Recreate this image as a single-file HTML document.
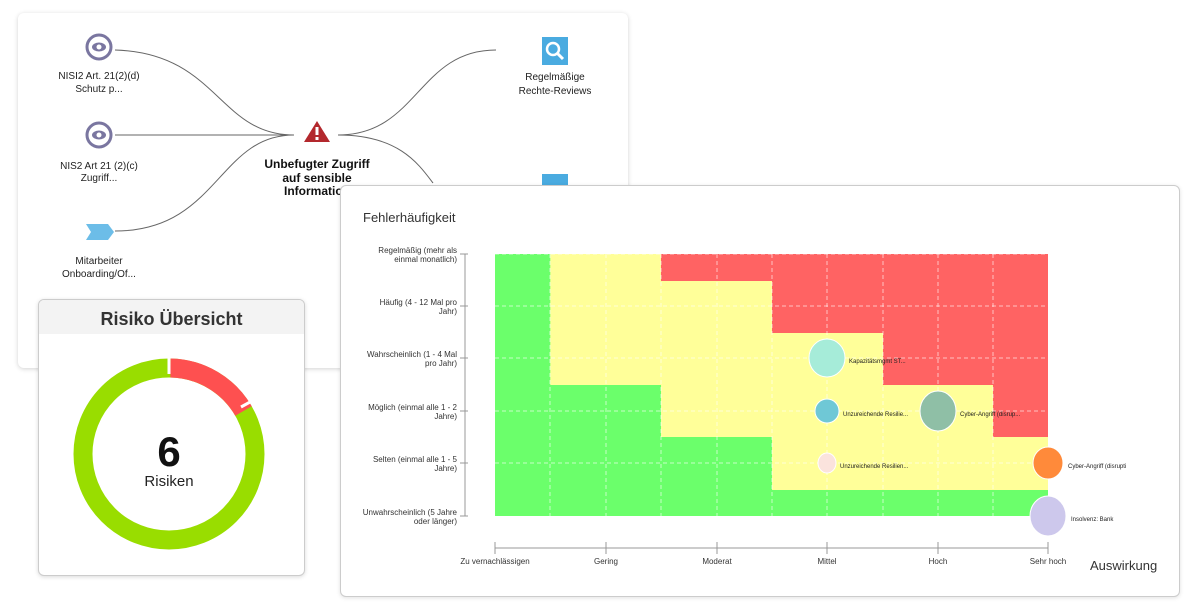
<!DOCTYPE html>
<html><head><meta charset="utf-8"><style>
body{margin:0;width:1200px;height:612px;background:#fff;position:relative;overflow:hidden;font-family:"Liberation Sans",sans-serif}
.card{position:absolute;background:#fff;border-radius:6px}
</style></head><body>
<div class="card" style="left:18px;top:13px;width:610px;height:355px;box-shadow:0 1px 5px rgba(0,0,0,.18)">
<svg width="610" height="355" style="position:absolute;left:0;top:0" font-family="Liberation Sans, sans-serif">
<g fill="none" stroke="#666" stroke-width="1">
<path d="M97 37 C200 40,200 122,276 122"/>
<path d="M97 122 L276 122"/>
<path d="M97 218 C200 218,200 122,276 122"/>
<path d="M320 122 C400 122,400 37,478 37"/>
<path d="M320 122 C380 122,400 150,415 170"/>
</g>
<circle cx="81" cy="34" r="12" fill="#fff" stroke="#7a76a0" stroke-width="3"/>
<ellipse cx="81" cy="34" rx="7" ry="4.5" fill="#7a76a0"/><circle cx="81" cy="34" r="2.5" fill="#fff"/>
<circle cx="81" cy="122" r="12" fill="#fff" stroke="#7a76a0" stroke-width="3"/>
<ellipse cx="81" cy="122" rx="7" ry="4.5" fill="#7a76a0"/><circle cx="81" cy="122" r="2.5" fill="#fff"/>
<polygon points="68,211 90,211 96,219 90,227 68,227 73,219" fill="#6cbde8"/>
<polygon points="299,108 286,129 312,129" fill="#b3282d"/>
<rect x="297.5" y="114" width="3" height="8" fill="#fff"/><rect x="297.5" y="124" width="3" height="3" fill="#fff"/>
<rect x="524" y="24" width="26" height="28" fill="#4aabe0"/>
<circle cx="535" cy="36" r="6" fill="none" stroke="#fff" stroke-width="2.5"/><line x1="539" y1="40" x2="545" y2="46" stroke="#fff" stroke-width="3"/>
<rect x="524" y="161" width="26" height="15" fill="#4aabe0"/>
<g font-size="10" fill="#222" text-anchor="middle">
<text x="81" y="66">NISI2 Art. 21(2)(d)</text><text x="81" y="79">Schutz p...</text>
<text x="81" y="156">NIS2 Art 21 (2)(c)</text><text x="81" y="168">Zugriff...</text>
<text x="81" y="251">Mitarbeiter</text><text x="81" y="264">Onboarding/Of...</text>
<text x="537" y="67">Regelmäßige</text><text x="537" y="81">Rechte-Reviews</text>
</g>
<g font-size="12" font-weight="bold" fill="#111" text-anchor="middle">
<text x="299" y="155">Unbefugter Zugriff</text><text x="299" y="169">auf sensible</text><text x="299" y="182">Information</text>
</g>
</svg></div>

<div class="card" style="left:340px;top:185px;width:840px;height:412px;border:1px solid #ccc;box-sizing:border-box;box-shadow:0 1px 4px rgba(0,0,0,.12)"></div>
<svg width="1200" height="612" style="position:absolute;left:0;top:0" font-family="Liberation Sans, sans-serif">
<text x="363" y="222" font-size="13" fill="#333">Fehlerhäufigkeit</text>
<text x="1090" y="570" font-size="13" fill="#333">Auswirkung</text>
<rect x="495" y="254" width="553" height="262" fill="#ffff99"/>
<g fill="#6bff6b">
<rect x="495" y="254" width="55.3" height="262"/>
<rect x="550" y="385" width="111" height="131"/>
<rect x="661" y="437" width="111" height="79"/>
<rect x="772" y="490" width="276" height="26"/>
</g>
<g fill="#ff6363">
<rect x="661" y="254" width="387" height="27"/>
<rect x="772" y="281" width="276" height="52"/>
<rect x="883" y="333" width="165" height="52"/>
<rect x="993" y="385" width="55" height="52"/>
</g>
<g stroke="#fff" stroke-opacity=".6" stroke-dasharray="4,3" stroke-width="1">
<line x1="495" y1="254" x2="1048" y2="254"/><line x1="495" y1="306" x2="1048" y2="306"/><line x1="495" y1="358" x2="1048" y2="358"/><line x1="495" y1="411" x2="1048" y2="411"/><line x1="495" y1="463" x2="1048" y2="463"/>
<line x1="550" y1="254" x2="550" y2="516"/><line x1="606" y1="254" x2="606" y2="516"/><line x1="661" y1="254" x2="661" y2="516"/><line x1="717" y1="254" x2="717" y2="516"/><line x1="772" y1="254" x2="772" y2="516"/><line x1="827" y1="254" x2="827" y2="516"/><line x1="883" y1="254" x2="883" y2="516"/><line x1="938" y1="254" x2="938" y2="516"/><line x1="993" y1="254" x2="993" y2="516"/>
</g>
<g stroke="#999" fill="none">
<path d="M465 254 V516 M460 254 H468 M460 306 H468 M460 358 H468 M460 411 H468 M460 463 H468 M460 516 H468"/>
<path d="M495 548 H1048 M495 542 V554 M606 542 V554 M717 542 V554 M827 542 V554 M938 542 V554 M1048 542 V554"/>
</g>
<g font-size="8" fill="#333" text-anchor="end">
<text x="457" y="253">Regelmäßig (mehr als</text><text x="457" y="262">einmal monatlich)</text>
<text x="457" y="305">Häufig (4 - 12 Mal pro</text><text x="457" y="314">Jahr)</text>
<text x="457" y="357">Wahrscheinlich (1 - 4 Mal</text><text x="457" y="366">pro Jahr)</text>
<text x="457" y="410">Möglich (einmal alle 1 - 2</text><text x="457" y="419">Jahre)</text>
<text x="457" y="462">Selten (einmal alle 1 - 5</text><text x="457" y="471">Jahre)</text>
<text x="457" y="515">Unwahrscheinlich (5 Jahre</text><text x="457" y="524">oder länger)</text>
</g>
<g font-size="8" fill="#333" text-anchor="middle">
<text x="495" y="564">Zu vernachlässigen</text><text x="606" y="564">Gering</text><text x="717" y="564">Moderat</text><text x="827" y="564">Mittel</text><text x="938" y="564">Hoch</text><text x="1048" y="564">Sehr hoch</text>
</g>
<g stroke="#fff" stroke-width="1">
<ellipse cx="827" cy="358" rx="18" ry="19" fill="#a6ecd9"/>
<ellipse cx="827" cy="411" rx="12" ry="12" fill="#6fc8d6"/>
<ellipse cx="938" cy="411" rx="18" ry="20" fill="#8fbfa6"/>
<ellipse cx="827" cy="463" rx="9" ry="10" fill="#fbe3dd"/>
<ellipse cx="1048" cy="463" rx="15" ry="16" fill="#ff8a3a"/>
<ellipse cx="1048" cy="516" rx="18" ry="20" fill="#cdc8ec"/>
</g>
<g font-size="6" fill="#222">
<text x="849" y="363">Kapazitätsmgmt ST...</text>
<text x="843" y="416">Unzureichende Resilie...</text>
<text x="960" y="416">Cyber-Angriff (disrup...</text>
<text x="840" y="468">Unzureichende Resilien...</text>
<text x="1068" y="468">Cyber-Angriff (disrupti</text>
<text x="1071" y="521">Insolvenz: Bank</text>
</g>
</svg>

<div class="card" style="left:38px;top:299px;width:267px;height:277px;border:1px solid #ccc;box-sizing:border-box;box-shadow:0 1px 4px rgba(0,0,0,.15);overflow:hidden">
<div style="height:34px;background:#f3f3f3;text-align:center;font-size:18px;font-weight:bold;color:#333;line-height:38px">Risiko Übersicht</div>
<svg width="267" height="243" style="position:absolute;left:0;top:34px">
<circle cx="130" cy="120" r="86" fill="none" stroke="#99dd00" stroke-width="19"/>
<path d="M131.5 34 A86 86 0 0 1 204.5 77" fill="none" stroke="#fe5050" stroke-width="19"/>
<line x1="130" y1="20" x2="130" y2="40" stroke="#fff" stroke-width="3"/>
<line x1="202" y1="73" x2="222" y2="62" stroke="#fff" stroke-width="3"/>
<text x="130" y="132" font-family="Liberation Sans" font-size="42" font-weight="bold" text-anchor="middle" fill="#111">6</text>
<text x="130" y="152" font-family="Liberation Sans" font-size="15" text-anchor="middle" fill="#222">Risiken</text>
</svg></div>
</body></html>
